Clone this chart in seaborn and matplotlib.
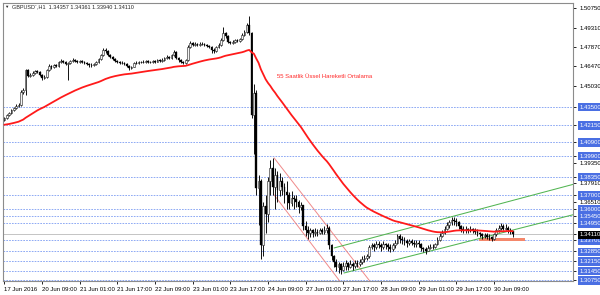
import numpy as np
import pandas as pd
import matplotlib
matplotlib.use("Agg")
import matplotlib.pyplot as plt
import seaborn as sns

# ---------------- data (GBPUSD H1) ----------------
first_open = 1.4255
closes = [
    1.4267, 1.4289, 1.4303, 1.4325, 1.4340, 1.4355, 1.4362, 1.4458, 1.4472, 1.4620,
    1.4575, 1.4583, 1.4597, 1.4612, 1.4605, 1.4583, 1.4561, 1.4568, 1.4619, 1.4649,
    1.4641, 1.4656, 1.4649, 1.4678, 1.4685, 1.4678, 1.4663, 1.4671, 1.4685, 1.4693,
    1.4685, 1.4678, 1.4685, 1.4678, 1.4671, 1.4663, 1.4656, 1.4656, 1.4663, 1.4678,
    1.4700, 1.4730, 1.4766, 1.4759, 1.4730, 1.4715, 1.4700, 1.4685, 1.4678, 1.4671,
    1.4671, 1.4663, 1.4649, 1.4634, 1.4641, 1.4671, 1.4671, 1.4678, 1.4678, 1.4678,
    1.4685, 1.4678, 1.4678, 1.4685, 1.4678, 1.4693, 1.4685, 1.4693, 1.4708, 1.4715,
    1.4708, 1.4730, 1.4752, 1.4708, 1.4693, 1.4678, 1.4671, 1.4693, 1.4788, 1.4818,
    1.4803, 1.4810, 1.4803, 1.4810, 1.4810, 1.4803, 1.4796, 1.4788, 1.4766, 1.4759,
    1.4788, 1.4803, 1.4840, 1.4891, 1.4869, 1.4825, 1.4818, 1.4825, 1.4840, 1.4832,
    1.4847, 1.4877, 1.4900, 1.4950, 1.4890, 1.4290, 1.4450, 1.3750, 1.3800, 1.3330,
    1.3620, 1.3560, 1.3800, 1.3900, 1.3760, 1.3850, 1.3740, 1.3800, 1.3760, 1.3720,
    1.3700, 1.3640, 1.3680, 1.3670, 1.3650, 1.3610, 1.3630, 1.3470, 1.3440, 1.3420,
    1.3440, 1.3420, 1.3430, 1.3420, 1.3440, 1.3430, 1.3440, 1.3460, 1.3330, 1.3250,
    1.3210, 1.3170, 1.3190, 1.3150, 1.3180, 1.3200, 1.3170, 1.3190, 1.3180, 1.3200,
    1.3190, 1.3210, 1.3230, 1.3240, 1.3250, 1.3320, 1.3330, 1.3320, 1.3340, 1.3330,
    1.3320, 1.3340, 1.3330, 1.3320, 1.3300, 1.3330, 1.3350, 1.3400, 1.3380, 1.3370,
    1.3360, 1.3350, 1.3360, 1.3350, 1.3340, 1.3350, 1.3340, 1.3310, 1.3300, 1.3290,
    1.3310, 1.3320, 1.3320, 1.3340, 1.3370, 1.3400, 1.3420, 1.3450, 1.3480, 1.3500,
    1.3520, 1.3510, 1.3500, 1.3470, 1.3450, 1.3440, 1.3450, 1.3440, 1.3450, 1.3440,
    1.3430, 1.3420, 1.3410, 1.3400, 1.3405, 1.3395, 1.3390, 1.3380, 1.3410, 1.3440,
    1.3460, 1.3470, 1.3450, 1.3460, 1.3440, 1.34357, 1.34110,
]
highs = [
    1.4275, 1.4296, 1.4312, 1.4333, 1.4350, 1.4368, 1.4375, 1.4470, 1.4490, 1.4628,
    1.4630, 1.4595, 1.4610, 1.4622, 1.4620, 1.4610, 1.4590, 1.4580, 1.4625, 1.4660,
    1.4658, 1.4665, 1.4662, 1.4688, 1.4698, 1.4692, 1.4685, 1.4680, 1.4695, 1.4705,
    1.4700, 1.4692, 1.4695, 1.4690, 1.4685, 1.4678, 1.4670, 1.4668, 1.4672, 1.4688,
    1.4710, 1.4740, 1.4781, 1.4778, 1.4765, 1.4738, 1.4722, 1.4708, 1.4692, 1.4685,
    1.4682, 1.4678, 1.4668, 1.4655, 1.4650, 1.4680, 1.4682, 1.4688, 1.4688, 1.4690,
    1.4695, 1.4692, 1.4688, 1.4695, 1.4692, 1.4702, 1.4700, 1.4705, 1.4718, 1.4728,
    1.4722, 1.4740, 1.4766, 1.4758, 1.4715, 1.4700, 1.4688, 1.4702, 1.4800, 1.4835,
    1.4828, 1.4822, 1.4818, 1.4822, 1.4822, 1.4818, 1.4812, 1.4805, 1.4795, 1.4778,
    1.4798, 1.4815, 1.4855, 1.4935, 1.4900, 1.4875, 1.4835, 1.4838, 1.4850, 1.4848,
    1.4858, 1.4888, 1.4915, 1.4965, 1.5018, 1.4900, 1.4520, 1.4470, 1.3850, 1.3820,
    1.3650, 1.3700, 1.3830, 1.3960, 1.3975, 1.3900, 1.3880, 1.3860, 1.3830, 1.3790,
    1.3800, 1.3720, 1.3730, 1.3700, 1.3700, 1.3660, 1.3650, 1.3630, 1.3510, 1.3470,
    1.3460, 1.3450, 1.3460, 1.3450, 1.3460, 1.3460, 1.3470, 1.3490, 1.3470, 1.3340,
    1.3260, 1.3230, 1.3210, 1.3200, 1.3210, 1.3220, 1.3210, 1.3220, 1.3210, 1.3220,
    1.3220, 1.3230, 1.3250, 1.3260, 1.3270, 1.3330, 1.3350, 1.3350, 1.3360, 1.3360,
    1.3350, 1.3360, 1.3350, 1.3350, 1.3340, 1.3350, 1.3370, 1.3410, 1.3410, 1.3400,
    1.3390, 1.3380, 1.3380, 1.3380, 1.3370, 1.3370, 1.3370, 1.3350, 1.3320, 1.3320,
    1.3330, 1.3340, 1.3340, 1.3350, 1.3390, 1.3420, 1.3440, 1.3470, 1.3500, 1.3520,
    1.3535, 1.3535, 1.3530, 1.3510, 1.3480, 1.3470, 1.3470, 1.3460, 1.3470, 1.3460,
    1.3460, 1.3450, 1.3430, 1.3420, 1.3420, 1.3420, 1.3410, 1.3400, 1.3420, 1.3460,
    1.3480, 1.3495, 1.3490, 1.3490, 1.3470, 1.3460, 1.34361,
]
lows = [
    1.4248, 1.4260, 1.4282, 1.4295, 1.4318, 1.4330, 1.4345, 1.4358, 1.4440, 1.4436,
    1.4565, 1.4565, 1.4578, 1.4590, 1.4595, 1.4575, 1.4546, 1.4550, 1.4560, 1.4610,
    1.4630, 1.4635, 1.4640, 1.4645, 1.4670, 1.4668, 1.4655, 1.4546, 1.4660, 1.4678,
    1.4675, 1.4668, 1.4670, 1.4668, 1.4660, 1.4655, 1.4645, 1.4645, 1.4648, 1.4655,
    1.4670, 1.4695, 1.4725, 1.4745, 1.4722, 1.4705, 1.4690, 1.4678, 1.4668, 1.4660,
    1.4660, 1.4655, 1.4640, 1.4619, 1.4625, 1.4638, 1.4660, 1.4665, 1.4668, 1.4668,
    1.4672, 1.4670, 1.4668, 1.4672, 1.4670, 1.4675, 1.4678, 1.4680, 1.4688, 1.4700,
    1.4698, 1.4702, 1.4725, 1.4700, 1.4680, 1.4668, 1.4660, 1.4665, 1.4688, 1.4780,
    1.4795, 1.4795, 1.4795, 1.4798, 1.4800, 1.4795, 1.4788, 1.4780, 1.4744, 1.4745,
    1.4752, 1.4780, 1.4798, 1.4835, 1.4855, 1.4815, 1.4808, 1.4810, 1.4815, 1.4822,
    1.4825, 1.4840, 1.4868, 1.4892, 1.4880, 1.4270, 1.4000, 1.3700, 1.3480, 1.3229,
    1.3250, 1.3420, 1.3500, 1.3700, 1.3700, 1.3600, 1.3650, 1.3690, 1.3700, 1.3640,
    1.3600, 1.3600, 1.3620, 1.3600, 1.3610, 1.3570, 1.3590, 1.3440, 1.3400, 1.3380,
    1.3390, 1.3390, 1.3400, 1.3400, 1.3410, 1.3410, 1.3410, 1.3420, 1.3300, 1.3220,
    1.3170, 1.3140, 1.3130, 1.3122, 1.3140, 1.3150, 1.3150, 1.3160, 1.3150, 1.3160,
    1.3170, 1.3180, 1.3190, 1.3210, 1.3220, 1.3240, 1.3300, 1.3290, 1.3300, 1.3310,
    1.3290, 1.3300, 1.3300, 1.3290, 1.3280, 1.3290, 1.3310, 1.3340, 1.3350, 1.3340,
    1.3330, 1.3320, 1.3330, 1.3330, 1.3320, 1.3320, 1.3320, 1.3290, 1.3280, 1.3270,
    1.3290, 1.3300, 1.3300, 1.3310, 1.3330, 1.3360, 1.3390, 1.3410, 1.3440, 1.3460,
    1.3480, 1.3480, 1.3470, 1.3450, 1.3430, 1.3420, 1.3420, 1.3420, 1.3430, 1.3420,
    1.3410, 1.3400, 1.3390, 1.3380, 1.3385, 1.3380, 1.3370, 1.3365, 1.3370, 1.3400,
    1.3430, 1.3440, 1.3440, 1.3440, 1.3420, 1.3410, 1.33940,
]
ema_seed = 1.4215
ema_span = 55

symbol = "GBPUSD`,H1"
time_labels = ["17 Jun 2016", "20 Jun 09:00", "21 Jun 01:00", "21 Jun 17:00",
               "22 Jun 09:00", "23 Jun 01:00", "23 Jun 17:00", "24 Jun 09:00",
               "27 Jun 01:00", "27 Jun 17:00", "28 Jun 09:00", "29 Jun 01:00",
               "29 Jun 17:00", "30 Jun 09:00"]
label_step = 16

scale_prices = [1.50750, 1.49310, 1.47870, 1.46470, 1.45030, 1.39350, 1.37910, 1.36510]
level_prices = [1.43500, 1.42150, 1.40900, 1.39900, 1.38350, 1.37000, 1.36000,
                1.35450, 1.34950, 1.33700, 1.32850, 1.32150, 1.31450, 1.30750]

# trend lines: (bar, price) anchor pairs
red_upper_bars, red_upper_prices = [114.6, 160.0], [1.3973, 1.2962]
red_lower_bars, red_lower_prices = [114.6, 160.0], [1.3701, 1.2670]
green_upper_bars, green_upper_prices = [140.1, 245.0], [1.3311, 1.3794]
green_lower_bars, green_lower_prices = [144.3, 245.0], [1.3127, 1.3570]
zone_bars = [201.7, 221.2]
zone_prices = [1.3363, 1.3385]
note_text = "55 Saatlik Üssel Hareketli Ortalama"
note_bar, note_price = 115.8, 1.4575

# ---------------- derived ----------------
n = len(closes)
x = np.arange(n)
c = np.array(closes)
o = np.array([first_open] + closes[:-1])
h = np.maximum(np.array(highs), np.maximum(o, c))
l = np.minimum(np.array(lows), np.minimum(o, c))
ema = pd.Series([ema_seed] + closes).ewm(span=ema_span, adjust=False).mean().values[1:]
df = pd.DataFrame({"bar": x, "ema": ema})
current_price = closes[-1]

# ---------------- figure ----------------
sns.set_style("white")
plt.rcParams["font.family"] = ["Liberation Sans", "DejaVu Sans"]
FS = 4.3

fig = plt.figure(figsize=(6.0, 2.95), dpi=100)
ax = fig.add_axes([3 / 600, 1 - 281 / 295, 570 / 600, 278 / 295])
ax.set_xlim(-0.6, 241.6)
ax.set_ylim(1.3068, 1.5112)

# horizontal level lines
for p in level_prices:
    ax.axhline(p, color="#7c9cf2", lw=0.6, ls=(0, (2.0, 1.4)), zorder=1)
ax.axhline(current_price, color="#c4c4c4", lw=0.7, zorder=1)

# zone rectangle
ax.fill_between(zone_bars, zone_prices[0], zone_prices[1], color="#f4876a",
                lw=0, zorder=2, clip_on=False)

# candles
bull = c >= o
ax.vlines(x, l, h, color="black", lw=0.65, zorder=3)
body_lo = np.minimum(o, c)
body_h = np.maximum(np.abs(c - o), 0.00014)
ax.bar(x[bull], body_h[bull], bottom=body_lo[bull], width=0.75,
       color="#f4f4f4", edgecolor="#1a1a1a", linewidth=0.4, zorder=4)
ax.bar(x[~bull], body_h[~bull], bottom=body_lo[~bull], width=0.75,
       color="black", edgecolor="black", linewidth=0.25, zorder=4)

# EMA
sns.lineplot(data=df, x="bar", y="ema", ax=ax, color="#ff1a1a", lw=1.3, zorder=5)

# channels
ax.plot(red_upper_bars, red_upper_prices, color="#f08a8a", lw=0.7, zorder=2)
ax.plot(red_lower_bars, red_lower_prices, color="#f08a8a", lw=0.7, zorder=2)
ax.plot(green_upper_bars, green_upper_prices, color="#52b552", lw=0.75, zorder=2)
ax.plot(green_lower_bars, green_lower_prices, color="#52b552", lw=0.75, zorder=2)

ax.text(note_bar, note_price, note_text, color="#ff2a2a", fontsize=FS,
        ha="left", va="center")

# axes styling
for s in ax.spines.values():
    s.set_color("#8c8c8c")
    s.set_linewidth(0.8)
ax.set_xlabel("")
ax.set_ylabel("")

# y ticks on right
ytick_vals = scale_prices + level_prices + [current_price]
ax.yaxis.tick_right()
ax.set_yticks(ytick_vals)
ax.set_yticklabels([f"{v:.5f}" for v in ytick_vals])
ax.tick_params(axis="y", which="major", length=2.5, width=0.6, pad=2.2,
               labelsize=FS, colors="black", right=True, left=False)
for v, lbl in zip(ytick_vals, ax.get_yticklabels()):
    if v in level_prices:
        lbl.set_color("white")
        lbl.set_bbox(dict(boxstyle="square,pad=0.28", fc="#4a6fe3", ec="none"))
    elif v == current_price:
        lbl.set_color("white")
        lbl.set_bbox(dict(boxstyle="square,pad=0.28", fc="black", ec="none"))
        lbl.set_zorder(10)

# x ticks
xt = [i * label_step for i in range(len(time_labels))]
ax.set_xticks(xt)
ax.set_xticklabels(time_labels)
ax.tick_params(axis="x", length=2.5, width=0.6, pad=1.8, labelsize=FS,
               colors="black", bottom=True)
for lbl in ax.get_xticklabels():
    lbl.set_ha("left")

# header
ohlc_txt = symbol + "  " + " ".join(f"{v:.5f}" for v in
                                     [closes[-2], highs[-1], lows[-1], closes[-1]])
fig.text(12 / 600, 1 - 6.5 / 295, ohlc_txt, fontsize=4.0, va="center", ha="left")
fig.text(4 / 600, 1 - 6.5 / 295, "▼", fontsize=3.2, va="center", ha="left")

fig.savefig("out.png", dpi=100, facecolor="white")
